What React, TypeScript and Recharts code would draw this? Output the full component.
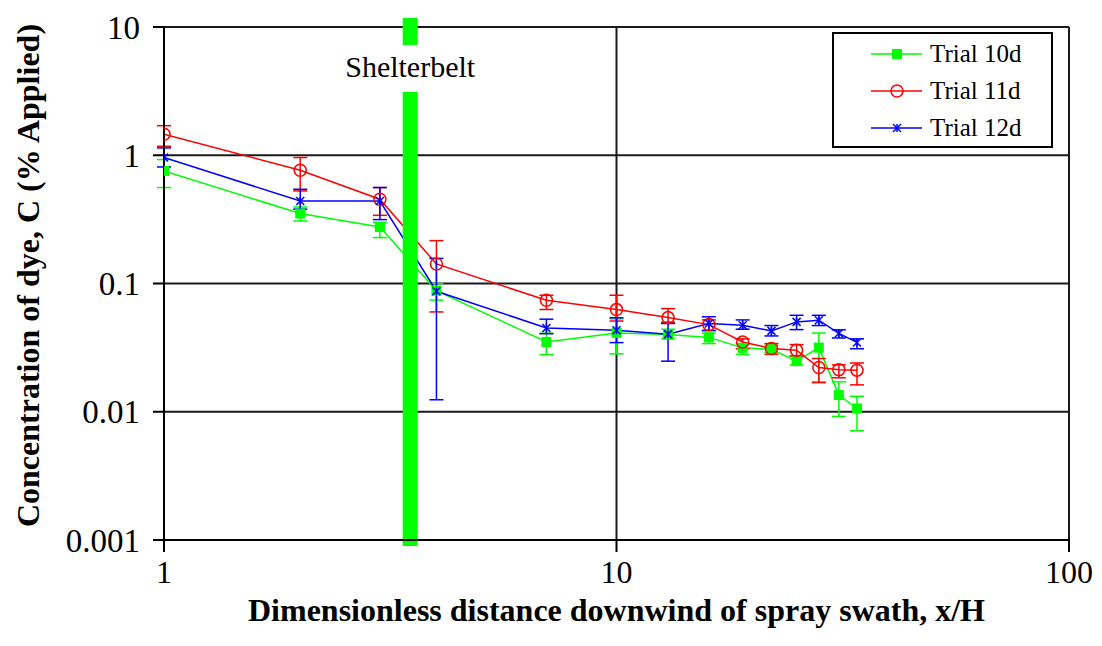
import React from 'react'
import { LineChart, Line, XAxis, YAxis, CartesianGrid, ErrorBar, ReferenceLine } from 'recharts'

// distance downwind, x/H
const distances = [1, 2, 3, 4, 7, 10, 13, 16, 19, 22, 25, 28, 31, 34]

// concentration (% applied) with lower / upper error bounds
const trial10d = [0.755, 0.351, 0.276, 0.088, 0.035, 0.0412, 0.04, 0.038, 0.0315, 0.0307, 0.0248, 0.0316, 0.0135, 0.0106]
const trial10dLow = [0.56, 0.307, 0.228, 0.0742, 0.0279, 0.0283, 0.037, 0.034, 0.028, 0.029, 0.0232, 0.0168, 0.0092, 0.0071]
const trial10dHigh = [0.925, 0.395, 0.3, 0.1, 0.041, 0.053, 0.044, 0.041, 0.034, 0.033, 0.0272, 0.0411, 0.0171, 0.0132]

const trial11d = [1.46, 0.764, 0.454, 0.142, 0.074, 0.0626, 0.0542, 0.0478, 0.035, 0.0311, 0.0302, 0.0221, 0.0213, 0.0211]
const trial11dLow = [1.175, 0.527, 0.34, 0.06, 0.0627, 0.051, 0.05, 0.043, 0.031, 0.028, 0.0272, 0.017, 0.0184, 0.0162]
const trial11dHigh = [1.7, 0.96, 0.56, 0.216, 0.081, 0.081, 0.0637, 0.052, 0.037, 0.034, 0.0334, 0.026, 0.0232, 0.024]

const trial12d = [0.96, 0.44, 0.44, 0.087, 0.045, 0.0432, 0.0402, 0.0487, 0.0472, 0.0427, 0.0502, 0.0517, 0.0409, 0.0347]
const trial12dLow = [0.81, 0.38, 0.315, 0.0124, 0.0406, 0.0346, 0.0248, 0.043, 0.044, 0.039, 0.0437, 0.047, 0.0376, 0.031]
const trial12dHigh = [1.14, 0.543, 0.56, 0.157, 0.0527, 0.054, 0.0488, 0.055, 0.052, 0.047, 0.0565, 0.0565, 0.0435, 0.037]

const xTicks = [1, 10, 100]
const yTicks = [0.001, 0.01, 0.1, 1, 10]
const shelterbeltX = 3.5

const series = [
  { key: 't10', name: 'Trial 10d', color: '#00ff00', marker: 'square', values: trial10d, low: trial10dLow, high: trial10dHigh },
  { key: 't11', name: 'Trial 11d', color: '#ff0000', marker: 'circle', values: trial11d, low: trial11dLow, high: trial11dHigh },
  { key: 't12', name: 'Trial 12d', color: '#0000ff', marker: 'star', values: trial12d, low: trial12dLow, high: trial12dHigh },
]

const data = distances.map((x, i) => {
  const row: any = { x }
  series.forEach(s => {
    row[s.key] = s.values[i]
    row[s.key + 'Err'] = [s.values[i] - s.low[i], s.high[i] - s.values[i]]
  })
  return row
})

const serif = 'Liberation Serif, Times New Roman, serif'

function Marker({ type, color, cx, cy }: { type: string; color: string; cx: number; cy: number }) {
  if (type === 'square') return <rect x={cx - 5} y={cy - 5} width={10} height={10} fill={color} />
  if (type === 'circle') return <circle cx={cx} cy={cy} r={6} fill="none" stroke={color} strokeWidth={1.5} />
  return (
    <g stroke={color} strokeWidth={1.5}>
      <line x1={cx - 4} y1={cy - 4} x2={cx + 4} y2={cy + 4} />
      <line x1={cx - 4} y1={cy + 4} x2={cx + 4} y2={cy - 4} />
      <line x1={cx} y1={cy - 4} x2={cx} y2={cy + 4} />
    </g>
  )
}

function Shelterbelt(props: any) {
  const x = props.x1
  const top = Math.min(props.y1, props.y2)
  const bottom = Math.max(props.y1, props.y2)
  return (
    <g>
      <rect x={x - 7.5} y={top - 9} width={15} height={27} fill="#00ff00" />
      <rect x={x - 7.5} y={top + 65} width={15} height={bottom + 6 - (top + 65)} fill="#00ff00" />
      <text x={x} y={top + 50} textAnchor="middle" fontFamily={serif} fontSize={30} fill="#000">Shelterbelt</text>
    </g>
  )
}

export default function App() {
  return (
    <div style={{ position: 'absolute', left: 0, top: 0, width: 1102, height: 646, background: '#fff' }}>
      <LineChart width={1102} height={646} data={data} margin={{ top: 27, right: 33, bottom: 0, left: 0 }}>
        <CartesianGrid stroke="#1a1a1a" strokeWidth={2} />
        <XAxis
          dataKey="x"
          type="number"
          scale="log"
          domain={[1, 100]}
          ticks={xTicks}
          allowDataOverflow
          height={106}
          axisLine={{ stroke: '#000', strokeWidth: 2 }}
          tickLine={{ stroke: '#000', strokeWidth: 2 }}
          tickSize={12}
          tickMargin={8}
          tick={{ fontSize: 32, fill: '#000', fontFamily: serif }}
          label={{
            content: ({ viewBox }: any) => (
              <text x={viewBox.x + viewBox.width / 2} y={viewBox.y + 81} textAnchor="middle" fontFamily={serif} fontWeight="bold" fontSize={32} fill="#000">
                Dimensionless distance downwind of spray swath, x/H
              </text>
            ),
          }}
        />
        <YAxis
          type="number"
          scale="log"
          domain={[0.001, 10]}
          ticks={yTicks}
          allowDataOverflow
          width={164}
          tickFormatter={(v: number) => String(v)}
          axisLine={{ stroke: '#000', strokeWidth: 2 }}
          tickLine={{ stroke: '#000', strokeWidth: 2 }}
          tickSize={11}
          tickMargin={13}
          tick={{ fontSize: 33, fill: '#000', fontFamily: serif }}
          label={{
            content: ({ viewBox }: any) => {
              const cx = viewBox.x + 28
              const cy = viewBox.y + viewBox.height / 2 - 8
              return (
                <text x={cx} y={cy} transform={`rotate(-90 ${cx} ${cy})`} textAnchor="middle" dominantBaseline="central" fontFamily={serif} fontWeight="bold" fontSize={32} fill="#000">
                  Concentration of dye, C (% Applied)
                </text>
              )
            },
          }}
        />
        {series.map(s => (
          <Line
            key={s.key}
            dataKey={s.key}
            name={s.name}
            type="linear"
            stroke={s.color}
            strokeWidth={1.5}
            isAnimationActive={false}
            activeDot={false}
            dot={(p: any) => <Marker key={`${s.key}-${p.index}`} type={s.marker} color={s.color} cx={p.cx} cy={p.cy} />}
          >
            <ErrorBar dataKey={(d: any) => d[s.key + 'Err']} direction="y" width={7} stroke={s.color} strokeWidth={1.5} isAnimationActive={false} />
          </Line>
        ))}
        <ReferenceLine x={shelterbeltX} shape={Shelterbelt} />
      </LineChart>

      <div style={{ position: 'absolute', left: 832, top: 32, width: 217, height: 112, border: '2px solid #000', background: '#fff' }}>
        {series.map((s, i) => (
          <div key={s.key} style={{ position: 'absolute', left: 0, top: 4 + i * 37, height: 32, display: 'flex', alignItems: 'center' }}>
            <svg width={96} height={32}>
              <line x1={37} y1={16} x2={88} y2={16} stroke={s.color} strokeWidth={1.5} />
              <Marker type={s.marker} color={s.color} cx={63} cy={16} />
            </svg>
            <span style={{ fontFamily: serif, fontSize: 25, color: '#000', whiteSpace: 'nowrap' }}>{s.name}</span>
          </div>
        ))}
      </div>
    </div>
  )
}
